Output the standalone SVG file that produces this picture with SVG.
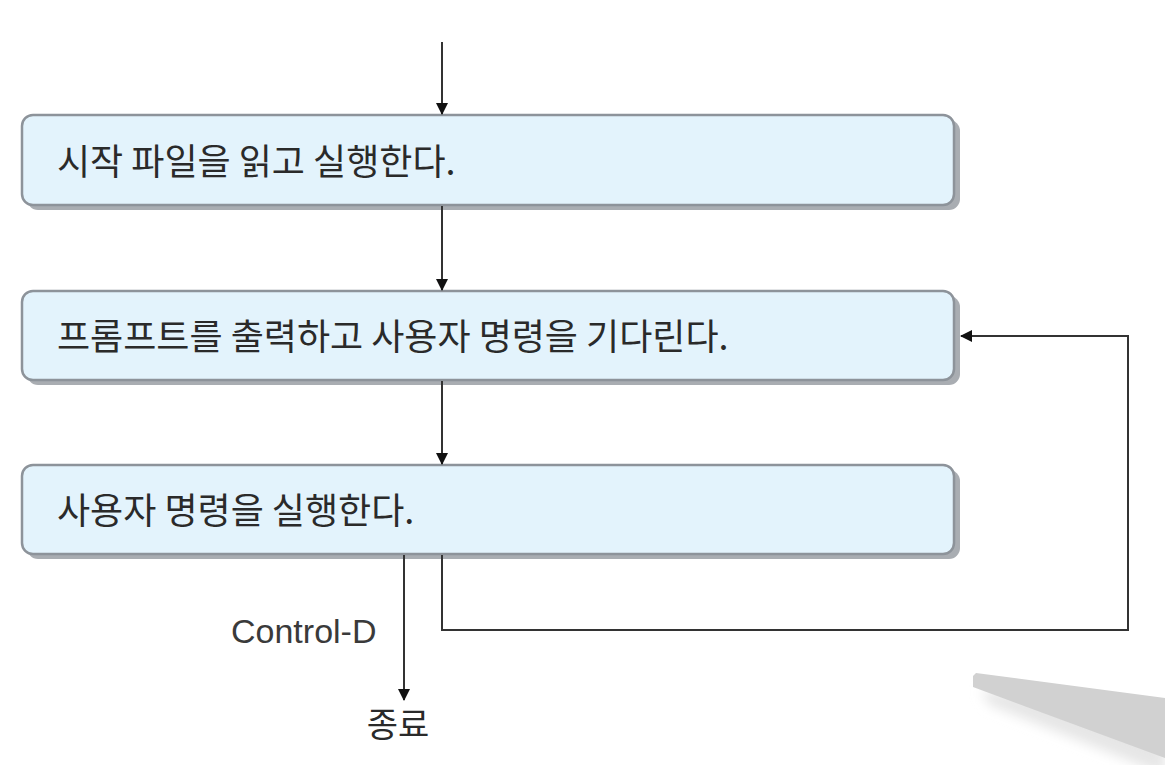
<svg xmlns="http://www.w3.org/2000/svg" width="1165" height="765" viewBox="0 0 1165 765">
<style>
.box{fill:#e3f3fc;stroke:#8d939a;stroke-width:2.5}
.shadow{fill:#a9adb2}
.lbl{font-family:"Noto Sans CJK KR","Noto Sans",sans-serif;font-size:36px;fill:#2a2a2a}
.cl{font-family:"Liberation Sans","Noto Sans",sans-serif;font-size:34px;fill:#3a3a3a}
.ln{fill:none;stroke:#333;stroke-width:2}
</style>
<defs>
<marker id="ah" markerWidth="12" markerHeight="12" refX="11" refY="6" orient="auto" markerUnits="userSpaceOnUse" viewBox="0 0 12 12">
<path d="M0,0 L12,6 L0,12 z" fill="#111"/>
</marker>
<filter id="bl" x="-20%" y="-50%" width="140%" height="200%"><feGaussianBlur stdDeviation="6"/></filter>
</defs>
<g id="deco">
<polygon points="980,690 1165,715 1165,775 990,705" fill="#e6e6e6" filter="url(#bl)"/>
<polygon points="976,673 1165,698 1165,758 973,687 973,676" fill="#d1d1d1"/>
</g>
<g id="node1">
<rect class="shadow" x="27" y="120" width="933" height="90" rx="11"/>
<rect class="box" x="22" y="115" width="932" height="90" rx="11"/>
<text class="lbl" x="57" y="175">시작 파일을 읽고 실행한다.</text>
</g>
<g id="node2">
<rect class="shadow" x="27" y="296" width="933" height="89" rx="11"/>
<rect class="box" x="22" y="291" width="932" height="89" rx="11"/>
<text class="lbl" x="57" y="350">프롬프트를 출력하고 사용자 명령을 기다린다.</text>
</g>
<g id="node3">
<rect class="shadow" x="27" y="470" width="933" height="89" rx="11"/>
<rect class="box" x="22" y="465" width="932" height="89" rx="11"/>
<text class="lbl" x="57" y="524">사용자 명령을 실행한다.</text>
</g>
<g id="end">
<text class="lbl" x="398" y="737" text-anchor="middle" style="font-size:34px">종료</text>
</g>
<g id="connectors">
<line class="ln" x1="442" y1="42" x2="442" y2="114" marker-end="url(#ah)"/>
<line class="ln" x1="442" y1="206" x2="442" y2="290" marker-end="url(#ah)"/>
<line class="ln" x1="442" y1="381" x2="442" y2="464" marker-end="url(#ah)"/>
<line class="ln" x1="404" y1="555" x2="404" y2="700" marker-end="url(#ah)"/>
<polyline class="ln" points="442,555 442,630 1128,630 1128,336 961,336" marker-end="url(#ah)"/>
<text class="cl" x="231" y="643">Control-D</text>
</g>
</svg>
